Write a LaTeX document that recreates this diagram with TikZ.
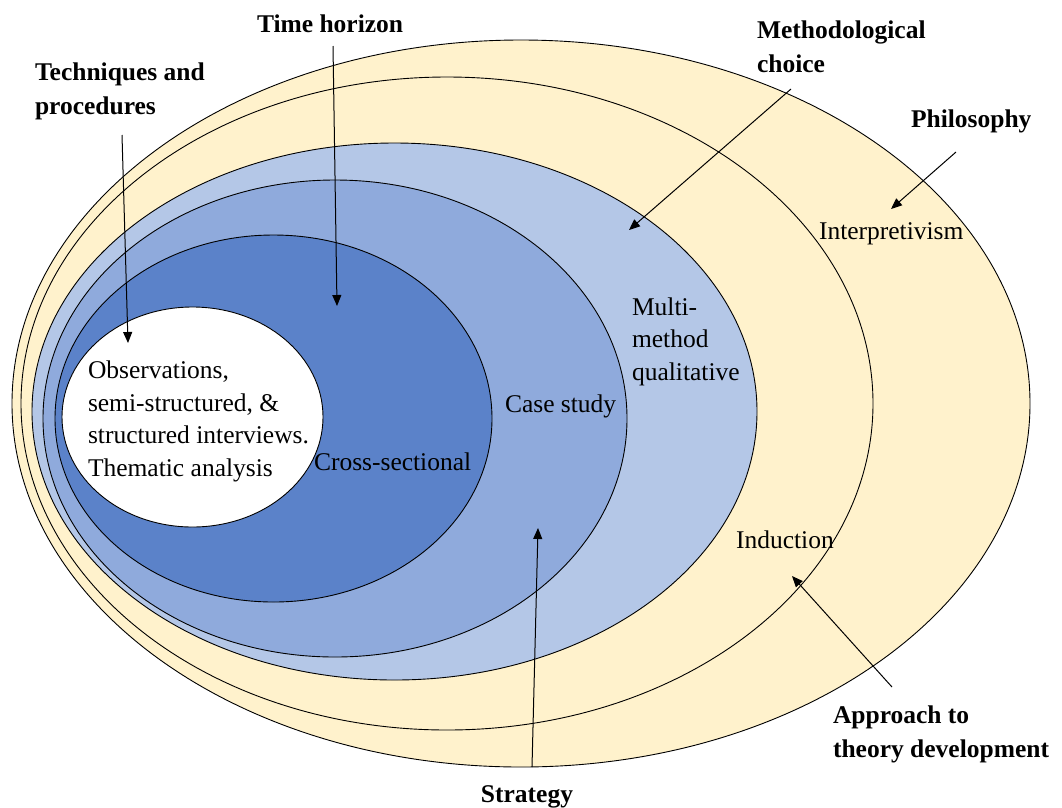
\documentclass[tikz,border=0pt]{standalone}
\usepackage{fontspec}
\setmainfont{Liberation Serif}
\usetikzlibrary{arrows.meta,shapes.geometric}
\definecolor{cream}{HTML}{FFF2CC}
\definecolor{blueA}{HTML}{B4C7E7}
\definecolor{blueB}{HTML}{8FAADC}
\definecolor{blueC}{HTML}{5B82C9}
\tikzset{
  ring/.style={draw=black,line width=0.9pt,ellipse,inner sep=0pt,outer sep=0pt},
  lab/.style={inner sep=0pt,outer sep=0pt,align=left,font=\fontsize{25.5}{32.4}\selectfont},
  head/.style={inner sep=0pt,outer sep=0pt,align=left,font=\fontsize{25.5}{33.5}\selectfont\bfseries},
  pointer/.style={draw=black,line width=1pt,-{Triangle[length=11pt,width=9pt]}}
}
\begin{document}
\begin{tikzpicture}[x=1pt,y=-1pt]
\useasboundingbox (0,0) rectangle (1062,807);
% rings
\node[ring,fill=cream,minimum width=1018pt,minimum height=727pt] (philo) at (521,403.5) {};
\node[ring,fill=cream,minimum width=852pt,minimum height=653pt] (approach) at (447,403.5) {};
\node[ring,fill=blueA,minimum width=725pt,minimum height=537pt] (choice) at (394.5,411.5) {};
\node[ring,fill=blueB,minimum width=584pt,minimum height=477pt] (strategy) at (335,418.5) {};
\node[ring,fill=blueC,minimum width=437pt,minimum height=367pt] (time) at (273.5,418.5) {};
\node[ring,fill=white,minimum width=261pt,minimum height=220pt] (tech) at (192.5,417) {};
% inner texts (anchored at the baseline of their last line)
\node[lab,anchor=base west] (obs) at (88,476) {Observations,\\semi-structured, \&\\structured interviews.\\Thematic analysis};
\node[lab,anchor=base west] (cross) at (314,470) {Cross-sectional};
\node[lab,anchor=base west] (case) at (505,412) {Case study};
\node[lab,anchor=base west] (multi) at (632,380) {Multi-\\method\\qualitative};
\node[lab,anchor=base west] (induc) at (736,548) {Induction};
\node[lab,anchor=base west] (interp) at (819,239) {Interpretivism};
% headings
\node[head,anchor=base west] (hTech) at (35,114) {Techniques and\\procedures};
\node[head,anchor=base west] (hTime) at (257,32) {Time horizon};
\node[head,anchor=base west] (hMeth) at (757,72) {Methodological\\choice};
\node[head,anchor=base west] (hPhil) at (911,127) {Philosophy};
\node[head,anchor=base west] (hAppr) at (833,757) {Approach to\\theory development};
\node[head,anchor=base] (hStrat) at (527,802) {Strategy};
% arrow ends
\coordinate (sTech) at (122,135);
\coordinate (tTech) at (128,343);
\coordinate (sTime) at (333,46);
\coordinate (tTime) at (337,306);
\coordinate (sMeth) at (791,89);
\coordinate (tMeth) at (629,230);
\coordinate (sPhil) at (956,152);
\coordinate (tPhil) at (891,209);
\coordinate (sAppr) at (892,687);
\coordinate (tAppr) at (792,576);
\coordinate (sStrat) at (532,767);
\coordinate (tStrat) at (538,528);
\draw[pointer] (sTech) -- (tTech);
\draw[pointer] (sTime) -- (tTime);
\draw[pointer] (sMeth) -- (tMeth);
\draw[pointer] (sPhil) -- (tPhil);
\draw[pointer] (sAppr) -- (tAppr);
\draw[pointer] (sStrat) -- (tStrat);
\end{tikzpicture}
\end{document}
